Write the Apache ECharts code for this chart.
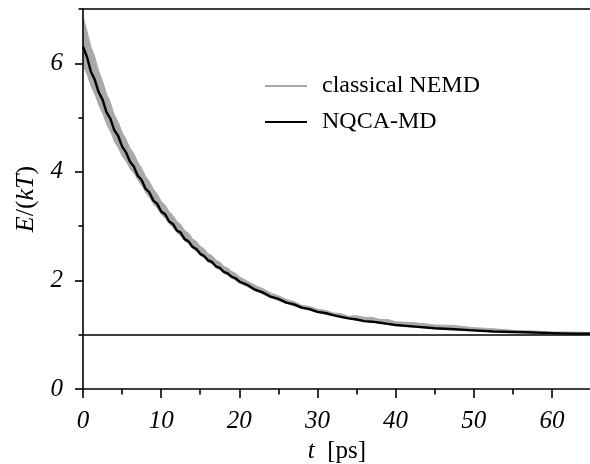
<!DOCTYPE html>
<html>
<head>
<meta charset="utf-8">
<script src="https://cdn.jsdelivr.net/npm/echarts@6/dist/echarts.min.js"></script>
<style>
  html, body { margin: 0; padding: 0; background: #fff; }
  #chart { width: 590px; height: 464px; }
</style>
</head>
<body>
<div id="chart"></div>
<script>
// 时间轴 t [ps]
const tPs = [
  0, 0.5, 1, 1.5, 2, 2.5, 3, 3.5, 4, 4.5, 5, 5.5, 6, 6.5, 7, 7.5, 8, 8.5, 9, 9.5,
  10, 10.5, 11, 11.5, 12, 12.5, 13, 13.5, 14, 14.5, 15, 15.5, 16, 16.5, 17, 17.5, 18, 18.5, 19, 19.5, 20,
  21, 22, 23, 24, 25, 26, 27, 28, 29, 30, 31, 32, 33, 34, 35, 36, 37, 38, 39, 40,
  42.5, 45, 47.5, 50, 52.5, 55, 57.5, 60, 62.5, 65
]
// NQCA-MD 黑线
const nqca = [
  6.31, 6.12, 5.85, 5.70, 5.47, 5.33, 5.10, 4.98, 4.77, 4.66, 4.47, 4.36, 4.19, 4.10, 3.93, 3.85, 3.69, 3.62, 3.47, 3.41,
  3.27, 3.22, 3.09, 3.04, 2.92, 2.88, 2.76, 2.72, 2.62, 2.58, 2.49, 2.45, 2.37, 2.34, 2.26, 2.23, 2.16, 2.13, 2.07, 2.04, 1.98,
  1.92, 1.83, 1.78, 1.70, 1.66, 1.59, 1.56, 1.50, 1.47, 1.42, 1.40, 1.36, 1.33, 1.30, 1.28, 1.25, 1.24, 1.22, 1.20, 1.18,
  1.15, 1.12, 1.10, 1.08, 1.06, 1.05, 1.04, 1.03, 1.02, 1.02
]
// classical NEMD 灰色噪声带 上沿 / 下沿
const nemdHigh = [
  6.86, 6.60, 6.31, 6.12, 5.86, 5.67, 5.44, 5.28, 5.05, 4.92, 4.73, 4.60, 4.44, 4.34, 4.18, 4.07, 3.92, 3.82, 3.68, 3.59,
  3.46, 3.39, 3.27, 3.20, 3.09, 3.03, 2.92, 2.87, 2.77, 2.72, 2.63, 2.58, 2.49, 2.46, 2.37, 2.34, 2.26, 2.23, 2.17, 2.13, 2.07,
  1.99, 1.91, 1.85, 1.77, 1.72, 1.65, 1.61, 1.54, 1.52, 1.47, 1.45, 1.40, 1.39, 1.34, 1.35, 1.32, 1.32, 1.28, 1.28, 1.24,
  1.22, 1.18, 1.17, 1.13, 1.11, 1.08, 1.07, 1.05, 1.05, 1.04
]
const nemdLow = [
  5.94, 5.78, 5.57, 5.41, 5.22, 5.06, 4.87, 4.73, 4.54, 4.43, 4.28, 4.18, 4.05, 3.97, 3.84, 3.74, 3.61, 3.52, 3.40, 3.32,
  3.21, 3.14, 3.04, 2.97, 2.87, 2.81, 2.72, 2.67, 2.58, 2.53, 2.45, 2.41, 2.33, 2.30, 2.22, 2.19, 2.12, 2.09, 2.03, 2.00, 1.94,
  1.88, 1.80, 1.74, 1.67, 1.62, 1.57, 1.52, 1.47, 1.44, 1.40, 1.37, 1.34, 1.31, 1.28, 1.26, 1.23, 1.22, 1.20, 1.18, 1.16,
  1.13, 1.10, 1.08, 1.06, 1.05, 1.04, 1.03, 1.02, 1.01, 1.01
]
// 刻度
const xMajorTicks = [0, 10, 20, 30, 40, 50, 60]
const xMinorTicks = [5, 15, 25, 35, 45, 55]
const yMajorTicks = [0, 2, 4, 6]
const yMinorTicks = [1, 3, 5, 7]
const equilibrium = 1 // E/(kT) = 1 水平线

const serif = 'Liberation Serif'
const black = '#000'
const gray = '#a9a9a9'

let myChart = echarts.init(document.getElementById('chart'))
myChart.setOption({
    animation: false,
    backgroundColor: '#fff',
    grid: {
        left: 83,
        right: -1,
        top: 9,
        bottom: 75,
        outerBoundsMode: 'none' // 不自动缩放网格
    },
    legend: {
        orient: 'vertical',
        left: 265,
        top: 74,
        padding: 0,
        icon: 'rect',
        itemWidth: 42,
        itemHeight: 2,
        itemGap: 12,
        data: [
            { name: 'classical NEMD', itemStyle: { color: gray } },
            { name: 'NQCA-MD', itemStyle: { color: black } }
        ],
        textStyle: {
            fontFamily: serif,
            fontSize: 24,
            lineHeight: 24,
            color: black,
            padding: [0, 0, 0, 10]
        }
    },
    xAxis: [
        {
            type: 'value',
            min: 0,
            max: 65,
            position: 'bottom',
            z: 10,
            name: '{i|t}  [ps]',
            nameLocation: 'middle',
            nameGap: 41,
            nameTextStyle: {
                fontFamily: serif,
                fontSize: 25,
                color: black,
                rich: { i: { fontFamily: serif, fontSize: 25, fontStyle: 'italic', color: black } }
            },
            axisLine: { show: true, onZero: false, lineStyle: { color: black, width: 1.6 } },
            axisTick: { show: true, length: 9, customValues: xMajorTicks, lineStyle: { color: black, width: 1.6 } },
            axisLabel: {
                customValues: xMajorTicks,
                margin: 20,
                fontFamily: serif,
                fontSize: 25,
                fontStyle: 'italic',
                color: black
            },
            splitLine: { show: false }
        },
        {
            // 次刻度
            type: 'value',
            min: 0,
            max: 65,
            position: 'bottom',
            z: 10,
            axisLine: { show: false, onZero: false },
            axisTick: { show: true, length: 5.5, customValues: xMinorTicks, lineStyle: { color: black, width: 1.6 } },
            axisLabel: { show: false },
            splitLine: { show: false }
        },
        {
            // 顶部边框
            type: 'value',
            min: 0,
            max: 65,
            position: 'top',
            z: 10,
            axisLine: { show: true, onZero: false, lineStyle: { color: black, width: 1.7 } },
            axisTick: { show: false },
            axisLabel: { show: false },
            splitLine: { show: false }
        }
    ],
    yAxis: [
        {
            type: 'value',
            min: 0,
            max: 7,
            position: 'left',
            z: 10,
            name: '{i|E}/({i|kT})',
            nameLocation: 'middle',
            nameRotate: 90,
            nameGap: 42,
            nameTextStyle: {
                fontFamily: serif,
                fontSize: 26,
                color: black,
                rich: { i: { fontFamily: serif, fontSize: 26, fontStyle: 'italic', color: black } }
            },
            axisLine: { show: true, onZero: false, lineStyle: { color: black, width: 1.6 } },
            axisTick: { show: true, length: 8, customValues: yMajorTicks, lineStyle: { color: black, width: 1.6 } },
            axisLabel: {
                customValues: yMajorTicks,
                margin: 20,
                fontFamily: serif,
                fontSize: 25,
                fontStyle: 'italic',
                color: black
            },
            splitLine: { show: false }
        },
        {
            type: 'value',
            min: 0,
            max: 7,
            position: 'left',
            z: 10,
            axisLine: { show: false, onZero: false },
            axisTick: { show: true, length: 4.5, customValues: yMinorTicks, lineStyle: { color: black, width: 1.6 } },
            axisLabel: { show: false },
            splitLine: { show: false }
        }
    ],
    series: [
        {
            // 灰带上沿, 填充到底部
            name: 'classical NEMD',
            type: 'line',
            symbol: 'none',
            color: gray,
            lineStyle: { width: 1, color: gray },
            areaStyle: { color: gray, opacity: 1, origin: 'start' },
            data: tPs.map((t, i) => [t, nemdHigh[i]]),
            z: 2
        },
        {
            // 灰带下沿, 用白色盖掉下面部分
            name: 'nemd-low',
            type: 'line',
            symbol: 'none',
            color: '#fff',
            lineStyle: { width: 0, opacity: 0 },
            areaStyle: { color: '#fff', opacity: 1, origin: 'start' },
            data: tPs.map((t, i) => [t, nemdLow[i]]),
            z: 2
        },
        {
            name: 'NQCA-MD',
            type: 'line',
            symbol: 'none',
            color: black,
            lineStyle: { width: 2.4, color: black },
            data: tPs.map((t, i) => [t, nqca[i]]),
            z: 3,
            markLine: {
                silent: true,
                symbol: ['none', 'none'],
                label: { show: false },
                lineStyle: { color: black, width: 1.6, type: 'solid' },
                data: [{ yAxis: equilibrium }]
            }
        }
    ]
})
window.addEventListener('resize', function () {
    myChart.resize()
})
</script>
</body>
</html>
